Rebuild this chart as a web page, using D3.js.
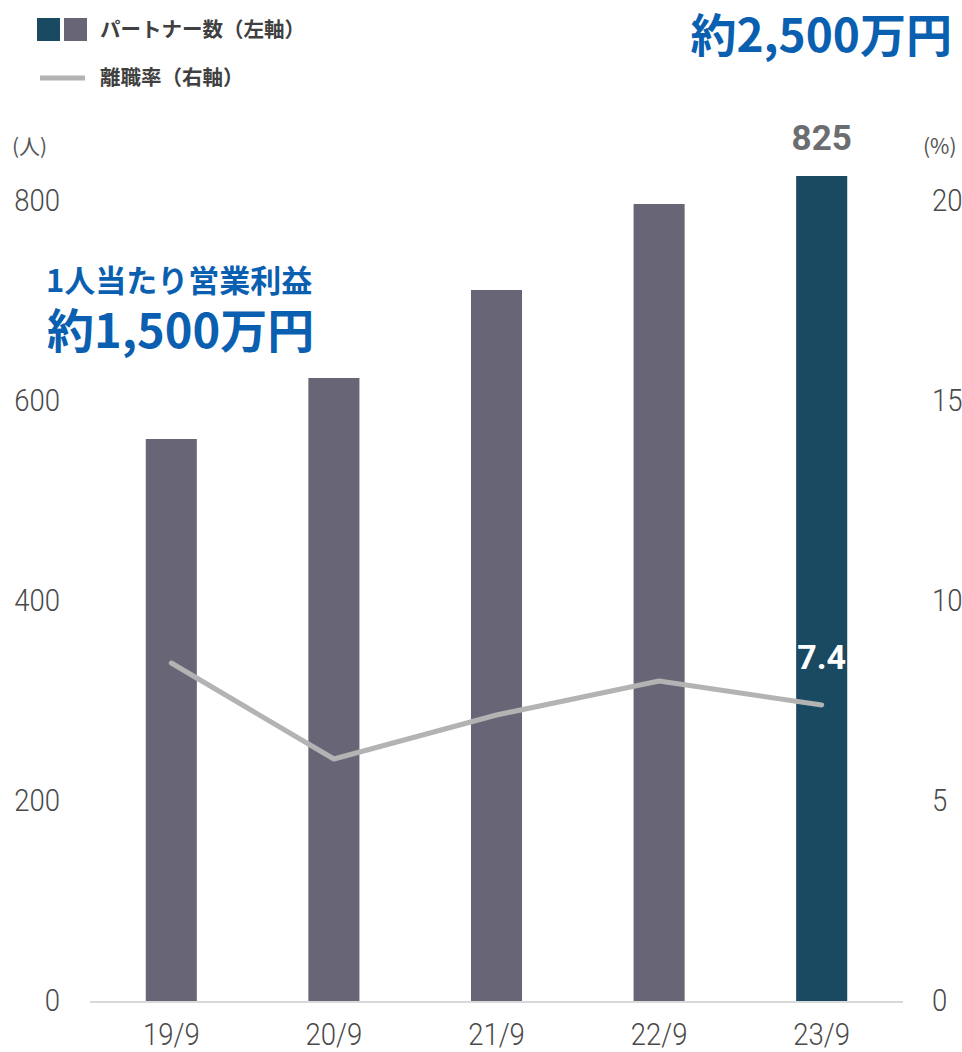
<!DOCTYPE html>
<html lang="ja">
<head>
<meta charset="utf-8">
<script src="https://cdn.jsdelivr.net/npm/d3@7"></script>
<style>
  html, body { margin: 0; padding: 0; background: #fff; }
  svg { display: block; }
</style>
</head>
<body>
<svg id="chart" width="962" height="1052"></svg>
<script>
// Fiscal periods and series
const periods = ["19/9", "20/9", "21/9", "22/9", "23/9"];
const partners = [562, 623, 711, 797, 825];        // パートナー数（人）
const turnover = [8.45, 6.05, 7.15, 8.0, 7.4];      // 離職率（%）
const leftTicks = [0, 200, 400, 600, 800];
const rightTicks = [0, 5, 10, 15, 20];

const W = 962, H = 1052;
const margin = { top: 201, bottom: 51, left: 90, right: 59 };
const svg = d3.select("#chart");

const jp = "'Noto Sans CJK JP', 'Noto Sans', sans-serif";
const tickFont = "'Roboto', 'Noto Sans', sans-serif";
const tickColor = "#4a4a4a";

const x = d3.scaleBand().domain(periods).range([margin.left, W - margin.right]).padding(0);
const yL = d3.scaleLinear().domain([0, 800]).range([H - margin.bottom, margin.top]);
const yR = d3.scaleLinear().domain([0, 20]).range([H - margin.bottom, margin.top]);
const barW = x.bandwidth() * 0.314;

// light, slightly narrowed tick labels
function styleTicks(sel, dy) {
  sel.attr("font-family", tickFont)
    .attr("font-weight", 300)
    .attr("font-size", 32)
    .attr("fill", tickColor)
    .attr("dy", dy)
    .attr("transform", "scale(0.86,1)");
}

// baseline
svg.append("line")
  .attr("x1", x.range()[0]).attr("x2", x.range()[1])
  .attr("y1", yL(0) + 1).attr("y2", yL(0) + 1)
  .attr("stroke", "#d9d9d9").attr("stroke-width", 2);

// bars
svg.append("g").selectAll("rect").data(periods).join("rect")
  .attr("x", d => x(d) + x.bandwidth() / 2 - barW / 2)
  .attr("width", barW)
  .attr("y", (d, i) => yL(partners[i]))
  .attr("height", (d, i) => yL(0) - yL(partners[i]))
  .attr("fill", (d, i) => i === periods.length - 1 ? "#1a4a62" : "#686676");

// turnover line
const line = d3.line()
  .x((d, i) => x(periods[i]) + x.bandwidth() / 2)
  .y(d => yR(d));
svg.append("path").datum(turnover)
  .attr("d", line)
  .attr("fill", "none")
  .attr("stroke", "#b3b3b3")
  .attr("stroke-width", 5)
  .attr("stroke-linecap", "round")
  .attr("stroke-linejoin", "round");

// left axis
const axL = d3.axisLeft(yL).tickValues(leftTicks).tickSize(0).tickPadding(0);
svg.append("g").attr("transform", `translate(${60},0)`).call(axL)
  .call(g => g.select(".domain").remove())
  .selectAll("text").call(styleTicks, "0.29em");

// right axis
const axR = d3.axisRight(yR).tickValues(rightTicks).tickSize(0).tickPadding(0);
svg.append("g").attr("transform", `translate(${932},0)`).call(axR)
  .call(g => g.select(".domain").remove())
  .selectAll("text").call(styleTicks, "0.29em");

// bottom axis
const axB = d3.axisBottom(x).tickSize(0).tickPadding(0);
svg.append("g").attr("transform", `translate(0,${1045})`).call(axB)
  .call(g => g.select(".domain").remove())
  .selectAll("text").call(styleTicks, "0");

// axis units
svg.append("text").attr("x", 12).attr("y", 154).text("(人)")
  .attr("font-family", jp).attr("font-size", 21).attr("fill", "#555");
svg.append("text").attr("x", 923).attr("y", 154).text("(%)")
  .attr("font-family", jp).attr("font-size", 21).attr("fill", "#555");

// value labels
const last = periods.length - 1;
const cx = x(periods[last]) + x.bandwidth() / 2;
svg.append("text").attr("x", cx).attr("y", yL(partners[last]) - 26)
  .attr("text-anchor", "middle").text(partners[last])
  .attr("font-family", "'Roboto', 'Noto Sans', sans-serif").attr("font-weight", 700)
  .attr("font-size", 35).attr("fill", "#6b6d70");
svg.append("text").attr("x", cx).attr("y", yR(turnover[last]) - 36)
  .attr("text-anchor", "middle").text(turnover[last].toFixed(1))
  .attr("font-family", "'Roboto', 'Noto Sans', sans-serif").attr("font-weight", 700)
  .attr("font-size", 34).attr("fill", "#fff");

// legend
const lg = svg.append("g");
lg.append("rect").attr("x", 37).attr("y", 18).attr("width", 23).attr("height", 23).attr("fill", "#1a4a62");
lg.append("rect").attr("x", 64).attr("y", 18).attr("width", 23).attr("height", 23).attr("fill", "#686676");
lg.append("text").attr("x", 100).attr("y", 37).text("パートナー数（左軸）")
  .attr("font-family", jp).attr("font-weight", 700).attr("font-size", 20.5).attr("fill", "#404040");
lg.append("line").attr("x1", 40).attr("x2", 85).attr("y1", 78).attr("y2", 78)
  .attr("stroke", "#b3b3b3").attr("stroke-width", 5);
lg.append("text").attr("x", 100).attr("y", 85).text("離職率（右軸）")
  .attr("font-family", jp).attr("font-weight", 700).attr("font-size", 20.5).attr("fill", "#404040");

// annotations
const blue = "#0b5fb0";
svg.append("text").attr("x", 952).attr("y", 52).attr("text-anchor", "end").text("約2,500万円")
  .attr("font-family", jp).attr("font-weight", 700).attr("font-size", 46).attr("fill", blue);
svg.append("text").attr("x", 46).attr("y", 292).text("1人当たり営業利益")
  .attr("font-family", jp).attr("font-weight", 700).attr("font-size", 31).attr("fill", blue);
svg.append("text").attr("x", 47).attr("y", 348).text("約1,500万円")
  .attr("font-family", jp).attr("font-weight", 700).attr("font-size", 47).attr("fill", blue);
</script>
</body>
</html>
